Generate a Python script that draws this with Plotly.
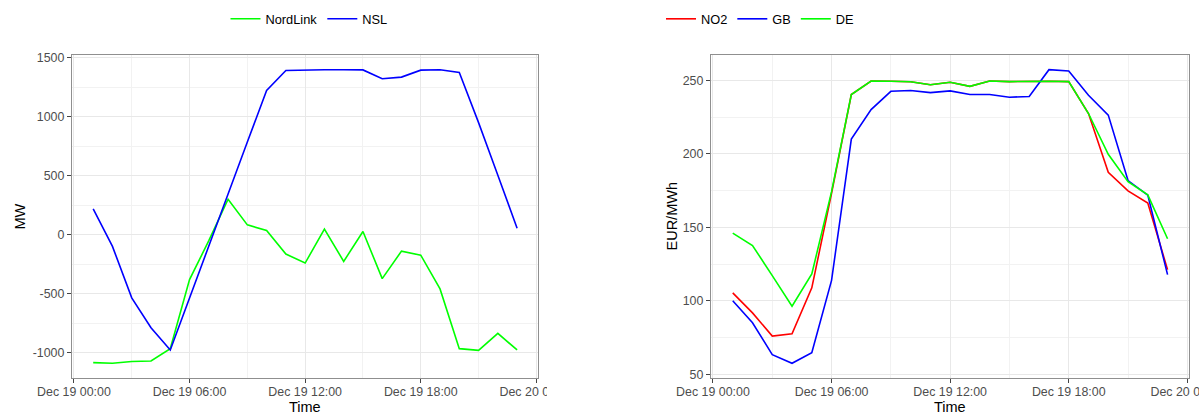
import pandas as pd
import plotly.graph_objects as go

# Hourly timestamps, Dec 19 01:00 .. 23:00
hours = pd.date_range("2022-12-19 01:00", "2022-12-19 23:00", freq="h")

# Interconnector flows (MW)
nordlink = [-1082, -1088, -1073, -1068, -964, -379, -50, 301, 84, 37, -163, -239,
            48, -225, 28, -371, -138, -172, -458, -964, -978, -835, -975]
nsl = [219, -98, -534, -787, -975, -540, -95, 345, 785, 1223, 1391, 1397,
       1398, 1398, 1396, 1321, 1335, 1394, 1397, 1374, 950, 505, 56]

# Day-ahead prices (EUR/MWh)
no2 = [105.5, 91.9, 76.1, 77.7, 108.9, 173.2, 240.3, 249.5, 249.3, 249.0, 247.0, 248.7,
       245.9, 249.5, 249.1, 249.3, 249.3, 249.1, 227.4, 187.5, 174.8, 166.5, 121.3]
gb = [100.1, 85.2, 63.5, 57.6, 64.8, 114.0, 210.0, 230.1, 242.5, 243.0, 241.6, 242.8,
      240.3, 240.3, 238.5, 239.0, 257.2, 256.3, 239.8, 226.3, 181.8, 171.9, 117.9]
de = [146.1, 137.7, 117.2, 96.4, 118.3, 174.3, 240.3, 249.5, 249.3, 249.0, 247.0, 248.7,
      245.9, 249.5, 249.1, 249.3, 249.3, 249.1, 227.4, 199.7, 181.1, 172.1, 142.3]

mw_ticks = [-1000, -500, 0, 500, 1000, 1500]
mw_ticktext = ["-1000", "-500", "0", "500", "1000", "1500"]
price_ticks = [50, 100, 150, 200, 250]
price_ticktext = ["50", "100", "150", "200", "250"]

W, H = 1199, 414
FONT = "Liberation Sans, Arial, sans-serif"
GREEN, BLUE, RED = "#00FF00", "#0000FF", "#FF0000"


def px_x(x):
    return x / W


def px_y(y):
    return 1 - y / H


def expand(vals, frac=0.05):
    lo, hi = min(vals), max(vals)
    pad = (hi - lo) * frac
    return [lo - pad, hi + pad]


# Time range with 5% padding either side of the data
t0, t1 = hours.min(), hours.max()
tpad = (t1 - t0) * 0.05
xrange = [str(t0 - tpad), str(t1 + tpad)]

fig = go.Figure()
lw = 1.6
fig.add_trace(go.Scatter(x=hours, y=nordlink, mode="lines", name="NordLink",
                         line=dict(color=GREEN, width=lw), xaxis="x", yaxis="y", legend="legend"))
fig.add_trace(go.Scatter(x=hours, y=nsl, mode="lines", name="NSL",
                         line=dict(color=BLUE, width=lw), xaxis="x", yaxis="y", legend="legend"))
fig.add_trace(go.Scatter(x=hours, y=no2, mode="lines", name="NO2",
                         line=dict(color=RED, width=lw), xaxis="x2", yaxis="y2", legend="legend2"))
fig.add_trace(go.Scatter(x=hours, y=gb, mode="lines", name="GB",
                         line=dict(color=BLUE, width=lw), xaxis="x2", yaxis="y2", legend="legend2"))
fig.add_trace(go.Scatter(x=hours, y=de, mode="lines", name="DE",
                         line=dict(color=GREEN, width=lw), xaxis="x2", yaxis="y2", legend="legend2"))

SIX_H = 6 * 3600 * 1000
THREE_H = 3 * 3600 * 1000
border = "#8f8f8f"
grid_major = "#e8e8e8"
grid_minor = "#f2f2f2"
tickfont = dict(family=FONT, size=12.4, color="#4d4d4d")

xcommon = dict(
    type="date", range=xrange, tick0="2022-12-19 00:00", dtick=SIX_H,
    tickformat="%b %d %H:%M", showgrid=True, gridcolor=grid_major, gridwidth=1,
    minor=dict(dtick=THREE_H, showgrid=True, gridcolor=grid_minor, gridwidth=1),
    showline=True, linecolor=border, linewidth=1.3, mirror=True,
    ticks="outside", ticklen=4, tickcolor="#444", tickwidth=1.2,
    tickfont=tickfont, zeroline=False, automargin=False, ticklabeloverflow="allow",
    ticklabelstandoff=-2,
)
ycommon = dict(
    showgrid=True, gridcolor=grid_major, gridwidth=1,
    showline=True, linecolor=border, linewidth=1.3, mirror=True,
    ticks="outside", ticklen=4, tickcolor="#444", tickwidth=1.2,
    tickfont=tickfont, zeroline=False, automargin=False,
)

ydom = [px_y(378), px_y(55)]

fig.update_layout(
    width=W, height=H,
    margin=dict(l=0, r=0, t=0, b=0, pad=0, autoexpand=False),
    paper_bgcolor="white", plot_bgcolor="white",
    font=dict(family=FONT, color="black"),
    xaxis={**xcommon, "domain": [px_x(72), px_x(538.3)], "anchor": "y"},
    yaxis={**ycommon, "domain": ydom, "anchor": "x", "range": expand(nordlink + nsl),
           "tickvals": mw_ticks, "ticktext": mw_ticktext,
           "minor": dict(dtick=250, tick0=0, showgrid=True, gridcolor=grid_minor, gridwidth=1)},
    xaxis2={**xcommon, "domain": [px_x(711), px_x(1189.3)], "anchor": "y2"},
    yaxis2={**ycommon, "domain": ydom, "anchor": "x2", "range": expand(no2 + gb + de),
            "tickvals": price_ticks, "ticktext": price_ticktext,
            "minor": dict(dtick=25, tick0=0, showgrid=True, gridcolor=grid_minor, gridwidth=1)},
    legend=dict(orientation="h", x=px_x(309), xanchor="center", y=px_y(19), yanchor="middle",
                font=dict(family=FONT, size=12.8, color="black"), itemwidth=30,
                bgcolor="rgba(0,0,0,0)"),
    legend2=dict(orientation="h", x=px_x(760), xanchor="center", y=px_y(19), yanchor="middle",
                 font=dict(family=FONT, size=12.8, color="black"), itemwidth=30,
                 bgcolor="rgba(0,0,0,0)"),
    showlegend=True,
)

title_font = dict(family=FONT, size=14.5, color="black")
fig.add_annotation(text="MW", x=px_x(19), y=px_y(216.5), xref="paper", yref="paper",
                   textangle=-90, showarrow=False, font=title_font, xanchor="center", yanchor="middle")
fig.add_annotation(text="EUR/MWh", x=px_x(671), y=px_y(216.5), xref="paper", yref="paper",
                   textangle=-90, showarrow=False, font=title_font, xanchor="center", yanchor="middle")
fig.add_annotation(text="Time", x=px_x(305), y=px_y(406.5), xref="paper", yref="paper",
                   showarrow=False, font=title_font, xanchor="center", yanchor="middle", borderpad=0)
fig.add_annotation(text="Time", x=px_x(950), y=px_y(406.5), xref="paper", yref="paper",
                   showarrow=False, font=title_font, xanchor="center", yanchor="middle", borderpad=0)

# The left chart's canvas ends just past its last tick label
fig.add_shape(type="rect", xref="paper", yref="paper", layer="above",
              x0=px_x(547), x1=px_x(605), y0=px_y(400), y1=px_y(380),
              fillcolor="white", line=dict(width=0))

fig.write_html("out.html")
